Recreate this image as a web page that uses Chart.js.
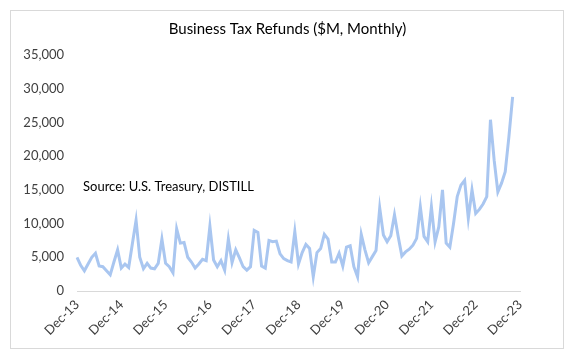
<!DOCTYPE html>
<html>
<head>
<meta charset="utf-8">
<script src="https://cdn.jsdelivr.net/npm/chart.js@4"></script>
<style>
  html, body { margin: 0; padding: 0; background: #fff; }
  #wrap { position: relative; width: 575px; height: 362px; }
  #frame { position: absolute; left: 10px; top: 10px; width: 554px; height: 339px; border: 1px solid #d9d9d9; box-sizing: border-box; }
  canvas { position: absolute; left: 0; top: 0; }
</style>
</head>
<body>
<div id="wrap">
  <div id="frame"></div>
  <canvas id="chart" width="575" height="362"></canvas>
</div>
<script>
// monthly refunds, $M, starting Dec-13
const refunds = [
    5000, 3800, 3000, 4000, 5000, 5600, 3700, 3600, 3000, 2400, 4300, 6100,
    3400, 4000, 3500, 7000, 10500, 5000, 3300, 4100, 3400, 3300, 4100, 7700,
    4100, 3600, 2700, 9200, 7100, 7200, 5000, 4300, 3400, 4000, 4700, 4500,
    9600, 4600, 3600, 4500, 3100, 7700, 4200, 6100, 4900, 3600, 3100, 3600,
    9000, 8700, 3700, 3400, 7500, 7300, 7400, 5500, 4800, 4500, 4300, 8800,
    4000, 5700, 6900, 6300, 2100, 5700, 6300, 8400, 7700, 4300, 4300, 5600,
    3700, 6500, 6700, 3600, 2100, 8400, 6100, 4200, 5100, 6000, 12300, 8300,
    7300, 8200, 11300, 8100, 5200, 5800, 6200, 6800, 7800, 12500, 8100, 7300,
    12500, 7300, 9500, 15000, 7100, 6500, 10000, 14000, 15700, 16400, 10800, 15000,
    11500, 12100, 12900, 14000, 25400, 19400, 14700, 16000, 17700, 22900, 28800
];
const monthNames = ['Jan','Feb','Mar','Apr','May','Jun','Jul','Aug','Sep','Oct','Nov','Dec'];
const yTicks = [0, 5000, 10000, 15000, 20000, 25000, 30000, 35000];
const sourceNote = 'Source: U.S. Treasury, DISTILL';

// month labels Dec-13 .. Dec-23
const labels = [];
for (let i = 0; i <= 120; i++) {
    const m = (11 + i) % 12;
    const yr = 13 + Math.floor((11 + i) / 12);
    labels.push(monthNames[m] + '-' + yr);
}

const noteText = {
    id: 'noteText',
    afterDraw(chart) {
        const ctx = chart.ctx;
        const x = chart.chartArea.left + 6;
        const y = chart.scales.y.getPixelForValue(15400);
        ctx.save();
        ctx.font = '13px Lato, "Open Sans", sans-serif';
        ctx.fillStyle = '#000';
        ctx.textBaseline = 'middle';
        ctx.fillText(sourceNote, x, y);
        ctx.restore();
    }
};

new Chart(document.getElementById('chart').getContext('2d'), {
    type: 'line',
    data: {
        labels: labels,
        datasets: [{
            label: 'Business Tax Refunds',
            data: refunds,
            borderColor: '#a9c6f0',
            borderWidth: 3,
            pointRadius: 0,
            tension: 0,
            fill: false
        }]
    },
    options: {
        responsive: false,
        animation: false,
        layout: { padding: { left: 10, right: 10, top: 10, bottom: 22 } },
        plugins: {
            legend: { display: false },
            tooltip: { enabled: false },
            title: {
                display: true,
                text: 'Business Tax Refunds ($M, Monthly)',
                color: '#000',
                font: { family: 'Lato, "Open Sans", sans-serif', size: 15, weight: 'normal' },
                padding: { top: 10, bottom: 17 }
            }
        },
        scales: {
            x: {
                grid: { display: false, drawTicks: false },
                border: { display: true, color: '#d9d9d9', width: 1 },
                afterFit: s => { s.height = 49; },
                ticks: {
                    autoSkip: false,
                    minRotation: 45,
                    maxRotation: 45,
                    padding: 6,
                    color: '#404040',
                    font: { family: 'Lato, "Open Sans", sans-serif', size: 13 },
                    callback: function(value, index) {
                        return index % 12 === 0 ? labels[index] : null;
                    }
                }
            },
            y: {
                min: 0,
                max: 35000,
                afterFit: s => { s.width = 67; },
                afterBuildTicks: s => { s.ticks = yTicks.map(v => ({ value: v })); },
                grid: { display: false, drawTicks: false },
                border: { display: false },
                ticks: {
                    padding: 13,
                    color: '#404040',
                    font: { family: 'Lato, "Open Sans", sans-serif', size: 13 },
                    callback: v => v.toLocaleString('en-US')
                }
            },
            // empty right-hand spacer so the plot stops short of the frame
            yRight: {
                position: 'right',
                min: 0,
                max: 35000,
                afterFit: s => { s.width = 45; },
                grid: { display: false, drawTicks: false },
                border: { display: false },
                ticks: { display: false }
            }
        }
    },
    plugins: [noteText]
});
</script>
</body>
</html>
